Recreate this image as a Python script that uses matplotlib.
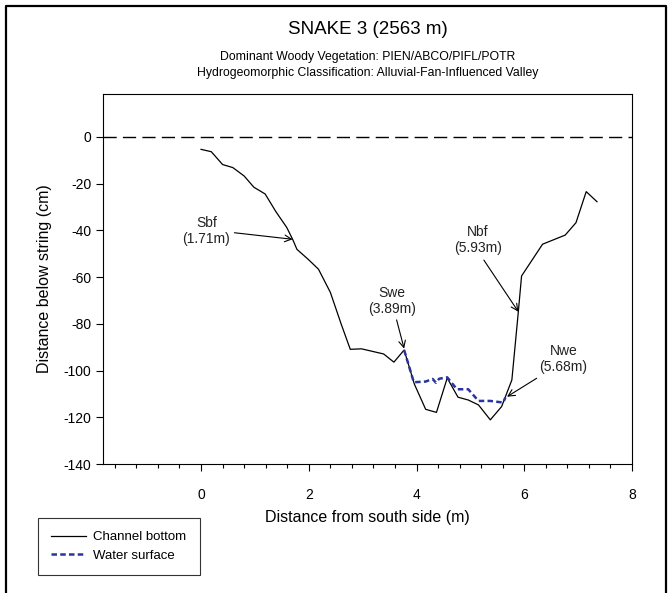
import matplotlib
matplotlib.use("Agg")
import matplotlib.pyplot as plt
from matplotlib.lines import Line2D
from matplotlib.ticker import MultipleLocator

plt.rcParams['font.family'] = ['Liberation Sans', 'DejaVu Sans']
plt.rcParams['axes.unicode_minus'] = False

# channel bottom profile (m, cm below string)
bottom_x = [0.0, 0.19, 0.40, 0.59, 0.80, 0.98, 1.19, 1.39, 1.59, 1.70, 1.78, 1.99,
            2.18, 2.40, 2.60, 2.77, 2.98, 3.39, 3.58, 3.77, 3.96, 4.17, 4.37, 4.57,
            4.77, 4.96, 5.15, 5.37, 5.58, 5.77, 5.89, 5.95, 6.34, 6.76, 6.96, 7.15, 7.35]
bottom_y = [-5.3, -6.3, -11.8, -13.1, -16.7, -21.5, -24.4, -32.0, -38.7, -43.8, -48.1, -52.4,
            -56.6, -66.5, -80.0, -90.9, -90.7, -92.9, -96.4, -91.2, -105.8, -116.6, -117.9, -103.2,
            -111.4, -112.6, -114.7, -121.1, -115.4, -104.0, -74.8, -59.5, -45.9, -42.0, -36.7, -23.4, -27.7]

# water surface
water_x = [3.77, 3.95, 4.17, 4.30, 4.36, 4.42, 4.57, 4.75, 4.96, 5.15, 5.37, 5.61, 5.65]
water_y = [-91.2, -105.0, -104.7, -103.6, -105.2, -103.5, -102.9, -108.0, -108.0, -113.0, -113.0, -113.7, -111.5]

# annotations: label, text position, arrow start, arrow tip
notes = [
    ("Sbf\n(1.71m)", (0.10, -40.2), (0.62, -41.0), (1.70, -43.8)),
    ("Swe\n(3.89m)", (3.54, -70.2), (3.63, -78.3), (3.77, -90.6)),
    ("Nbf\n(5.93m)", (5.14, -44.1), (5.25, -52.7), (5.89, -74.8)),
    ("Nwe\n(5.68m)", (6.73, -95.0), (6.23, -103.3), (5.68, -111.2)),
]

fig = plt.figure(figsize=(6.71, 5.93), dpi=100)
ax = fig.add_axes([103 / 671, 1 - 464 / 593, (632 - 103) / 671, (464 - 94) / 593])

ax.axhline(0, color="black", lw=1.0, dashes=(9.5, 4.5))
ax.plot(bottom_x, bottom_y, color="black", lw=0.9, label="Channel bottom")
ax.plot(water_x, water_y, color="#2a33a0", lw=1.8, dashes=(2.2, 1.3), label="Water surface")

for label, tpos, start, tip in notes:
    ax.text(tpos[0], tpos[1], label, ha="center", va="center", fontsize=10, color="#222222",
            linespacing=1.15)
    ax.annotate("", xy=tip, xytext=start,
                arrowprops=dict(arrowstyle="->", color="black", lw=0.8,
                                shrinkA=0, shrinkB=0, mutation_scale=12))

ax.set_xlim(-1.82, 8)
ax.set_ylim(-140, 18.4)
ax.xaxis.set_minor_locator(MultipleLocator(0.4))
ax.set_xticks([0, 2, 4, 6, 8])
ax.set_yticks(range(-140, 1, 20))
ax.tick_params(axis="both", which="major", direction="out", length=5, width=0.8,
               labelsize=10, colors="black")
ax.tick_params(axis="x", which="minor", direction="out", length=3, width=0.8)
ax.tick_params(axis="x", which="major", pad=12)
for s in ax.spines.values():
    s.set_linewidth(0.8)

ax.set_xlabel("Distance from south side (m)", fontsize=11.5, labelpad=6)
ax.set_ylabel("Distance below string (cm)", fontsize=11.5, labelpad=8)

cx = (103 + 632) / 2 / 671
fig.text(cx, 1 - 30 / 593, "SNAKE 3 (2563 m)", ha="center", va="center", fontsize=13.5)
fig.text(cx, 1 - 57 / 593, "Dominant Woody Vegetation: PIEN/ABCO/PIFL/POTR",
         ha="center", va="center", fontsize=8.8)
fig.text(cx, 1 - 73 / 593, "Hydrogeomorphic Classification: Alluvial-Fan-Influenced Valley",
         ha="center", va="center", fontsize=8.8)

leg = fig.legend(loc="upper left", bbox_to_anchor=(38 / 671, 1 - 518 / 593),
                 fontsize=9.5, frameon=True, fancybox=False, handlelength=2.6,
                 borderpad=1.0, labelspacing=0.45, handletextpad=0.6, borderaxespad=0)
leg.get_frame().set_edgecolor("black")
leg.get_frame().set_linewidth(0.8)

# outer frame
fx0, fx1, fy1 = 6 / 671, 666 / 671, 1 - 6 / 593
fig.add_artist(Line2D([fx0, fx0, fx1, fx1], [0, fy1, fy1, 0], transform=fig.transFigure,
                      color="black", lw=1.6))

fig.savefig("out.png", dpi=100)
